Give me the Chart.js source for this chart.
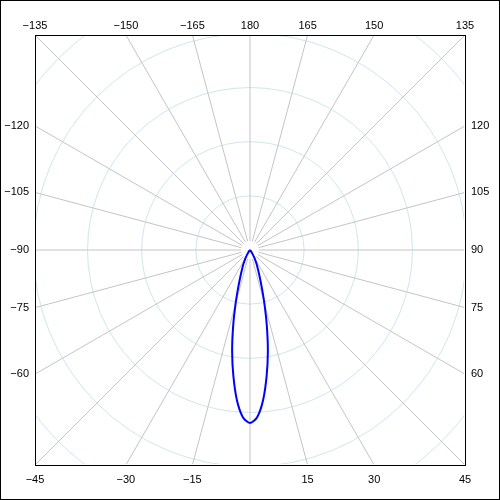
<!DOCTYPE html>
<html>
<head>
<meta charset="utf-8">
<script src="https://cdn.jsdelivr.net/npm/chart.js@4"></script>
<style>
  html, body { margin: 0; padding: 0; background: #fff; }
  #wrap { width: 500px; height: 500px; }
</style>
</head>
<body>
<div id="wrap"><canvas id="polar"></canvas></div>
<script>
// Polar intensity curve, angle 0 points down
const angles = [-45, -42.5, -40, -37.5, -35, -32.5, -30, -27.5, -25, -22.5, -20, -17.5, -15, -12.5, -10, -7.5, -5, -2.5,
  0, 2.5, 5, 7.5, 10, 12.5, 15, 17.5, 20, 22.5, 25, 27.5, 30, 32.5, 35, 37.5, 40, 42.5, 45];
const intensity = [0, 0, 1, 2.5, 5.5, 9.5, 14.7, 21, 29.5, 38, 51.6, 72, 103, 143.6, 190, 235, 278, 308.5,
  319.5, 308.5, 278, 235, 190, 143.6, 103, 72, 51.6, 38, 29.5, 21, 14.7, 9.5, 5.5, 2.5, 1, 0, 0];

const ringValues = [100, 200, 300, 400, 500];
const spokeAngles = [0, 15, 30, 45, 60, 75, 90, 105, 120, 135, 150, 165, 180, 195, 210, 225, 240, 255, 270, 285, 300, 315, 330, 345];

const bottomLabels = [-45, -30, -15, 15, 30, 45];
const topLabels = [-135, -150, -165, 180, 165, 150, 135];
const leftLabels = [-120, -105, -90, -75, -60];
const rightLabels = [120, 105, 90, 75, 60];

const RANGE = 397;
const rad = a => a * Math.PI / 180;
const fmt = a => a < 0 ? '\u2212' + (-a) : String(a);

const curve = angles.map((a, i) => ({
  x: intensity[i] * Math.sin(rad(a)),
  y: -intensity[i] * Math.cos(rad(a))
}));

// where each spoke meets the square frame
const edgePos = {
  bottom: a => RANGE * Math.tan(rad(a)),
  top: a => -RANGE * Math.tan(rad(a)),
  left: a => RANGE / Math.tan(rad(a)),
  right: a => -RANGE / Math.tan(rad(a))
};

function edgeAxis(axis, position, labels) {
  return {
    type: 'linear',
    axis: axis,
    position: position,
    min: -RANGE,
    max: RANGE,
    grid: { display: false, drawTicks: false },
    border: { display: true, color: '#000', width: 1 },
    afterBuildTicks: s => { s.ticks = labels.map(a => ({ value: edgePos[position](a) })); },
    afterFit: s => {
      if (axis === 'x') s.height = 35; else s.width = 35;
    },
    ticks: {
      autoSkip: false,
      maxRotation: 0,
      padding: position === 'bottom' ? 8 : (position === 'top' ? 2 : 6),
      color: '#000',
      font: { family: 'Liberation Sans', size: 11 },
      callback: (v, i) => fmt(labels[i])
    }
  };
}

const polarGrid = {
  id: 'polarGrid',
  beforeDraw(chart) {
    const c = chart.ctx;
    c.save();
    c.fillStyle = '#fff';
    c.fillRect(0, 0, chart.width, chart.height);
    c.restore();
  },
  beforeDatasetsDraw(chart) {
    const c = chart.ctx, xs = chart.scales.x, ys = chart.scales.y, area = chart.chartArea;
    const cx = xs.getPixelForValue(0), cy = ys.getPixelForValue(0);
    const unit = xs.getPixelForValue(1) - cx;
    c.save();
    // keep the grid inside the black frame
    c.beginPath();
    c.rect(area.left + 1, area.top + 1, area.right - area.left - 2, area.bottom - area.top - 2);
    c.clip();
    c.lineWidth = 1;
    c.strokeStyle = '#cfe6ee';
    ringValues.forEach(v => {
      c.beginPath();
      c.arc(cx, cy, v * unit, 0, Math.PI * 2);
      c.stroke();
    });
    c.strokeStyle = '#c4c4c4';
    spokeAngles.forEach(a => {
      const dx = Math.sin(rad(a)), dy = Math.cos(rad(a));
      c.beginPath();
      c.moveTo(cx + dx * 9, cy + dy * 9);
      c.lineTo(cx + dx * 400, cy + dy * 400);
      c.stroke();
    });
    c.restore();
  },
  afterDraw(chart) {
    const c = chart.ctx;
    c.save();
    c.strokeStyle = '#000';
    c.lineWidth = 1;
    c.strokeRect(0.5, 0.5, chart.width - 1, chart.height - 1);
    c.restore();
  }
};

new Chart(document.getElementById('polar'), {
  type: 'scatter',
  data: {
    datasets: [{
      data: curve,
      showLine: true,
      borderColor: '#0000ff',
      borderWidth: 2,
      pointRadius: 0,
      tension: 0.3,
      xAxisID: 'x',
      yAxisID: 'y'
    }]
  },
  options: {
    responsive: true,
    maintainAspectRatio: false,
    animation: false,
    layout: { padding: 0 },
    plugins: { legend: { display: false }, tooltip: { enabled: false } },
    scales: {
      x: edgeAxis('x', 'bottom', bottomLabels),
      x2: edgeAxis('x', 'top', topLabels),
      y: edgeAxis('y', 'left', leftLabels),
      y2: edgeAxis('y', 'right', rightLabels)
    }
  },
  plugins: [polarGrid]
});
</script>
</body>
</html>
